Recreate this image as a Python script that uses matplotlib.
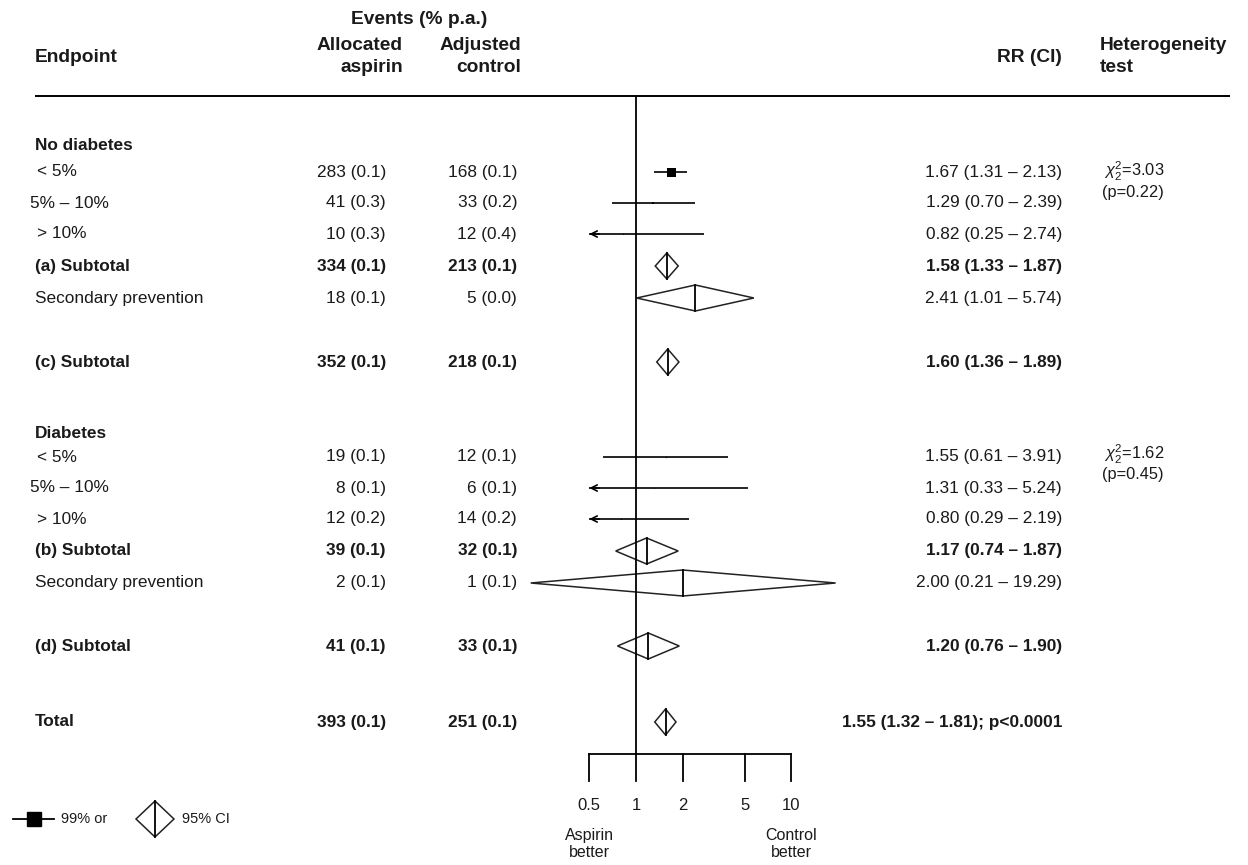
import numpy as np
import matplotlib
matplotlib.use("Agg")
import matplotlib.pyplot as plt
from matplotlib.patches import Polygon
from matplotlib.transforms import blended_transform_factory

plt.rcParams['font.family'] = ['Liberation Sans', 'DejaVu Sans']
plt.rcParams['mathtext.fontset'] = 'custom'
plt.rcParams['mathtext.rm'] = 'Liberation Sans'
plt.rcParams['mathtext.it'] = 'Liberation Sans:italic'

# ---- data ----
row_labels = ['< 5%', '5% \u2013 10%', '> 10%', '(a) Subtotal', 'Secondary prevention',
              '(c) Subtotal',
              '< 5%', '5% \u2013 10%', '> 10%', '(b) Subtotal', 'Secondary prevention',
              '(d) Subtotal', 'Total']
row_kind = ['box', 'box', 'box', 'sub', 'diamond', 'sub',
            'box', 'box', 'box', 'sub', 'diamond', 'sub', 'total']
asp_events = [283, 41, 10, 334, 18, 352, 19, 8, 12, 39, 2, 41, 393]
asp_pct = [0.1, 0.3, 0.3, 0.1, 0.1, 0.1, 0.1, 0.1, 0.2, 0.1, 0.1, 0.1, 0.1]
ctl_events = [168, 33, 12, 213, 5, 218, 12, 6, 14, 32, 1, 33, 251]
ctl_pct = [0.1, 0.2, 0.4, 0.1, 0.0, 0.1, 0.1, 0.1, 0.2, 0.1, 0.1, 0.1, 0.1]
rr = [1.67, 1.29, 0.82, 1.58, 2.41, 1.60, 1.55, 1.31, 0.80, 1.17, 2.00, 1.20, 1.55]
rr_lo = [1.31, 0.70, 0.25, 1.33, 1.01, 1.36, 0.61, 0.33, 0.29, 0.74, 0.21, 0.76, 1.32]
rr_hi = [2.13, 2.39, 2.74, 1.87, 5.74, 1.89, 3.91, 5.24, 2.19, 1.87, 19.29, 1.90, 1.81]
group_labels = ['No diabetes', 'Diabetes']
het_chi = [3.03, 1.62]
het_p = [0.22, 0.45]
tick_vals = [0.5, 1, 2, 5, 10]
tick_labels = ['0.5', '1', '2', '5', '10']

# ---- layout (pixel rows) ----
W, H = 1248, 865
row_y = [172, 203, 234, 266, 298, 362, 457, 488, 519, 551, 583, 646, 722]
group_y = [146, 434]
het_y = [171, 454]
label_x = [37, 30, 37, 35, 35, 35, 37, 30, 37, 35, 35, 35, 35]

X1 = 636.0      # pixel of RR = 1
DEC = 155.3     # pixels per decade

fig = plt.figure(figsize=(W / 100, H / 100), dpi=100)
ax = fig.add_axes([0, 0, 1, 1])
ax.set_xscale('log')
ax.set_xlim(10 ** (-X1 / DEC), 10 ** ((W - X1) / DEC))
ax.set_ylim(H, 0)
ax.axis('off')

tr = blended_transform_factory(ax.transAxes, ax.transData)


def px(x):
    return x / W


FS = 12.4
HFS = 13.8
TXT = '#1a1a1a'


def txt(x, y, s, ha='left', bold=False, size=FS, **kw):
    ax.text(px(x), y, s, transform=tr, ha=ha, va='center', fontsize=size,
            fontweight='bold' if bold else 'normal', color=TXT, **kw)


# header
txt(419, 20, 'Events (% p.a.)', ha='center', bold=True, size=HFS)
txt(35, 57, 'Endpoint', bold=True, size=HFS)
txt(403, 46, 'Allocated', ha='right', bold=True, size=HFS)
txt(403, 68, 'aspirin', ha='right', bold=True, size=HFS)
txt(521, 46, 'Adjusted', ha='right', bold=True, size=HFS)
txt(521, 68, 'control', ha='right', bold=True, size=HFS)
txt(1062, 57, 'RR (CI)', ha='right', bold=True, size=HFS)
txt(1100, 46, 'Heterogeneity', bold=True, size=HFS)
txt(1100, 68, 'test', bold=True, size=HFS)
ax.plot([px(35), px(1230)], [96, 96], transform=tr, color='black', lw=1.4,
        solid_capstyle='butt')

# group headings and heterogeneity
for gl, gy, hy, c, p in zip(group_labels, group_y, het_y, het_chi, het_p):
    txt(35, gy, gl, bold=True)
    txt(1104, hy, r'$\chi^2_2$' + '=%.2f' % c, size=11.8)
    txt(1102, hy + 21, '(p=%.2f)' % p, size=11.8)

# reference line at RR = 1
AX_Y = 754
ax.plot([1, 1], [97, AX_Y], color='black', lw=1.3)

# rows
for i in range(len(row_labels)):
    y = row_y[i]
    kind = row_kind[i]
    bold = kind in ('sub', 'total')
    txt(label_x[i], y, row_labels[i], bold=bold)
    txt(386, y, '%d (%.1f)' % (asp_events[i], asp_pct[i]), ha='right', bold=bold)
    txt(517, y, '%d (%.1f)' % (ctl_events[i], ctl_pct[i]), ha='right', bold=bold)
    rr_s = '%.2f (%.2f \u2013 %.2f)' % (rr[i], rr_lo[i], rr_hi[i])
    if kind == 'total':
        rr_s += '; p<0.0001'
    txt(1062, y, rr_s, ha='right', bold=bold)

    if kind == 'box':
        lo = max(rr_lo[i], 0.5)
        ax.plot([lo, rr_hi[i]], [y, y], color='black', lw=1.2, solid_capstyle='butt')
        if rr_lo[i] < 0.5:
            ax.annotate('', xy=(0.5, y), xytext=(0.58, y),
                        arrowprops=dict(arrowstyle='->', color='black', lw=1.2,
                                        mutation_scale=11, shrinkA=0, shrinkB=0))
        n = asp_events[i] + ctl_events[i]
        side = 9.0 * (n / 451.0) ** 0.75
        ax.plot([rr[i]], [y], marker='s', color='black', markersize=side * 0.72,
                markeredgewidth=0)
    else:
        h = 13
        diamond = Polygon([(rr_lo[i], y), (rr[i], y - h), (rr_hi[i], y), (rr[i], y + h)],
                          closed=True, fill=False, edgecolor='#222222', lw=1.1)
        ax.add_patch(diamond)
        ax.plot([rr[i], rr[i]], [y - h, y + h], color='black', lw=1.3)

# bottom axis
ax.plot([tick_vals[0], tick_vals[-1]], [AX_Y, AX_Y], color='black', lw=1.3)
for v, lab in zip(tick_vals, tick_labels):
    ax.plot([v, v], [AX_Y, AX_Y + 27], color='black', lw=1.3)
    ax.text(v, 805, lab, ha='center', va='center', fontsize=12, color=TXT)
ax.text(0.5, 844, 'Aspirin\nbetter', ha='center', va='center', fontsize=11.5,
        color=TXT, linespacing=1.1)
ax.text(10, 844, 'Control\nbetter', ha='center', va='center', fontsize=11.5,
        color=TXT, linespacing=1.1)

# legend
LY = 819
ax.plot([px(13), px(54)], [LY, LY], transform=tr, color='black', lw=1.3)
ax.plot([px(34)], [LY], transform=tr, marker='s', color='black', markersize=10)
txt(61, LY, '99% or', size=10.5)
ax.add_patch(Polygon([(px(136), LY), (px(155), LY - 18), (px(174), LY), (px(155), LY + 18)],
                     closed=True, fill=False, edgecolor='#222222', lw=1.1, transform=tr))
ax.plot([px(155), px(155)], [LY - 18, LY + 18], transform=tr, color='black', lw=1.3)
txt(182, LY, '95% CI', size=10.5)

fig.savefig('out.png', dpi=100)
